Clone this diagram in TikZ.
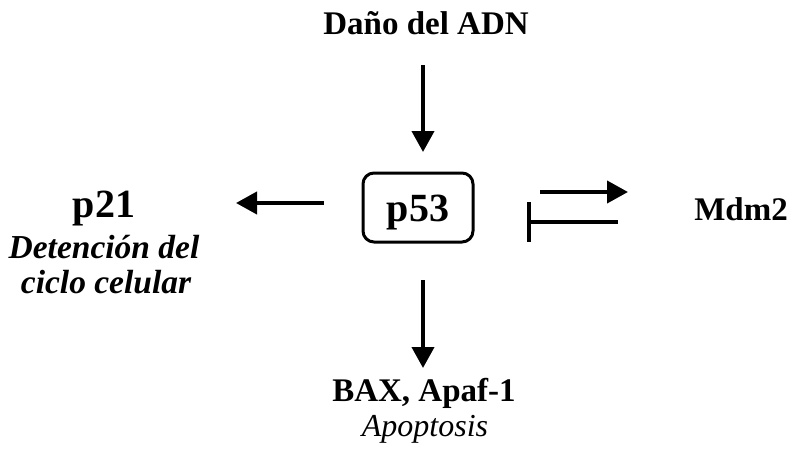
\documentclass[tikz,border=0pt]{standalone}
\usepackage{fontspec}
\setmainfont{Liberation Serif}
\usetikzlibrary{arrows.meta}
\begin{document}
\begin{tikzpicture}[x=1pt,y=-1pt,
  lbl/.style={inner sep=0pt,anchor=base,font=\fontsize{33}{39}\selectfont\bfseries},
  ilbl/.style={inner sep=0pt,anchor=base,font=\fontsize{33.5}{39}\selectfont\bfseries\itshape},
  itl/.style={inner sep=0pt,anchor=base,font=\fontsize{32}{38}\selectfont\itshape},
  big/.style={inner sep=0pt,anchor=base,font=\fontsize{40}{46}\selectfont\bfseries},
  arr/.style={line width=4pt,-{Triangle[length=21pt,width=22pt]}},
  inh/.style={line width=4pt},
  boxnode/.style={draw,line width=3pt,rounded corners=11pt,minimum width=110pt,minimum height=69pt,
    font=\fontsize{40}{46}\selectfont\bfseries,text height=28pt,text depth=0pt,inner sep=0pt}]
\useasboundingbox (0,0) rectangle (789,452);
% nodes
\node[lbl] (dano) at (426,35) {Daño del ADN};
\node[boxnode] (p53) at (418,207.5) {p53};
\node[big] (p21) at (104,217) {p21};
\node[ilbl] (det1) at (104,258) {Detención del};
\node[ilbl] (det2) at (106,293) {ciclo celular};
\node[lbl] (mdm) at (741,220) {Mdm2};
\node[lbl] (bax) at (424,401) {BAX, Apaf-1};
\node[itl] (apo) at (425,436) {Apoptosis};
% connector end points
\coordinate (t1) at (423,65);
\coordinate (t2) at (423,152);
\coordinate (b1) at (423,280);
\coordinate (b2) at (423,368);
\coordinate (l1) at (324,203);
\coordinate (l2) at (236,203);
\coordinate (m1) at (540,192);
\coordinate (m2) at (628,192);
\coordinate (i1) at (618,222);
\coordinate (i2) at (529,222);
% connectors
\draw[arr] (t1) -- (t2);
\draw[arr] (b1) -- (b2);
\draw[arr] (l1) -- (l2);
\draw[arr] (m1) -- (m2);
\draw[inh] (i1) -- (i2);
\draw[inh] ([yshift=20pt]i2) -- ([yshift=-20pt]i2);
\end{tikzpicture}
\end{document}
